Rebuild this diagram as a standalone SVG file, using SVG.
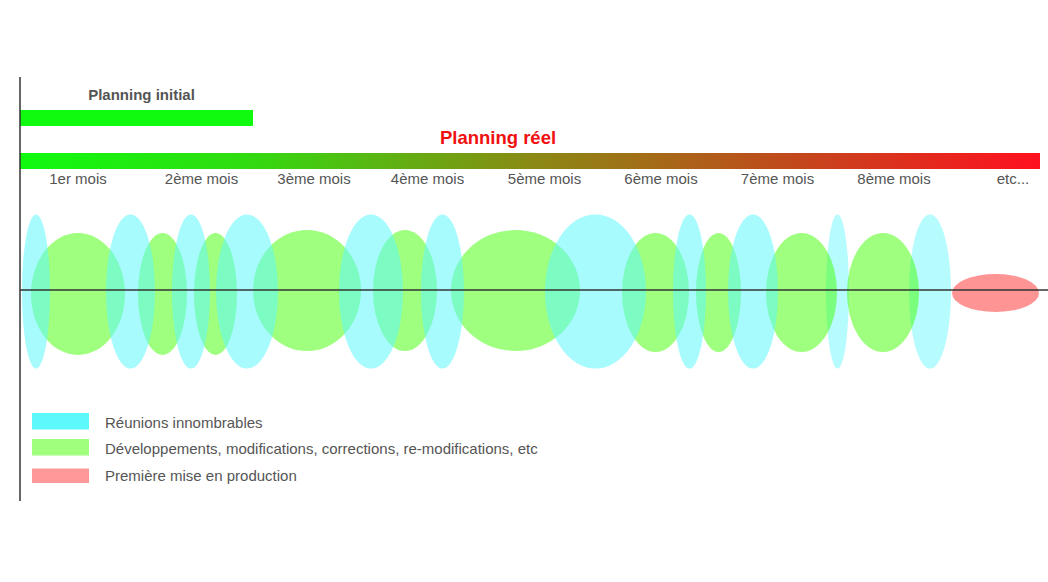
<svg xmlns="http://www.w3.org/2000/svg" width="1048" height="582" viewBox="0 0 1048 582">
<style>
text{font-family:"Liberation Sans",Arial,sans-serif;fill:#555}
.m{font-size:15px;text-anchor:middle}
.lg{font-size:15px}
.cy{fill:#5ef7fb;fill-opacity:.55}
.cyl{fill:#5ef7fb;fill-opacity:.45}
.gr{fill:#40ff00;fill-opacity:.5}
.axis{stroke:#333;stroke-width:1.5;fill:none}
</style>
<defs>
<linearGradient id="real" x1="0" y1="0" x2="1" y2="0">
<stop offset="0" stop-color="#10fa10"/>
<stop offset="0.22" stop-color="#30dc10"/>
<stop offset="0.5" stop-color="#8a8a14"/>
<stop offset="0.75" stop-color="#c04a1c"/>
<stop offset="1" stop-color="#ff1020"/>
</linearGradient>
</defs>
<rect width="1048" height="582" fill="#fff"/>
<g id="planning-initial">
<text x="141.5" y="99.5" font-size="15" font-weight="bold" text-anchor="middle">Planning initial</text>
<rect x="20" y="110" width="233" height="16" fill="#10fa10"/>
</g>
<g id="planning-reel">
<text x="498" y="143.5" font-size="18.5" font-weight="bold" text-anchor="middle" style="fill:#f01010">Planning réel</text>
<rect x="20" y="153" width="1020" height="16" fill="url(#real)"/>
</g>
<g id="months">
<text class="m" x="78" y="184">1er mois</text>
<text class="m" x="201.5" y="184">2ème mois</text>
<text class="m" x="314" y="184">3ème mois</text>
<text class="m" x="427.5" y="184">4ème mois</text>
<text class="m" x="544.5" y="184">5ème mois</text>
<text class="m" x="661" y="184">6ème mois</text>
<text class="m" x="777.5" y="184">7ème mois</text>
<text class="m" x="894" y="184">8ème mois</text>
<text class="m" x="1013" y="184">etc...</text>
</g>
<g id="activities">
<ellipse class="cyl" cx="837.5" cy="291.5" rx="11.5" ry="77"/>
<ellipse class="cyl" cx="930" cy="291.5" rx="21" ry="77"/>
<ellipse class="gr" cx="78" cy="294" rx="47" ry="61"/>
<ellipse class="gr" cx="162.5" cy="294" rx="24.5" ry="61"/>
<ellipse class="gr" cx="215.5" cy="294" rx="21.5" ry="61"/>
<ellipse class="gr" cx="307" cy="290.5" rx="54" ry="60.5"/>
<ellipse class="gr" cx="405" cy="290.5" rx="32" ry="60.5"/>
<ellipse class="gr" cx="515.5" cy="290.5" rx="64.5" ry="60.5"/>
<ellipse class="gr" cx="655.5" cy="292.5" rx="33.5" ry="59.5"/>
<ellipse class="gr" cx="718.5" cy="292.5" rx="22.5" ry="59.5"/>
<ellipse class="gr" cx="801.5" cy="292.5" rx="35.5" ry="59.5"/>
<ellipse class="gr" cx="883" cy="292.5" rx="36" ry="59.5"/>
<ellipse class="cy" cx="36" cy="291.5" rx="14" ry="77"/>
<ellipse class="cy" cx="130.5" cy="291.5" rx="24.5" ry="77"/>
<ellipse class="cy" cx="191" cy="291.5" rx="19" ry="77"/>
<ellipse class="cy" cx="247" cy="291.5" rx="31" ry="77"/>
<ellipse class="cy" cx="371" cy="291.5" rx="32" ry="77"/>
<ellipse class="cy" cx="442.5" cy="291.5" rx="21.5" ry="77"/>
<ellipse class="cy" cx="595.5" cy="291.5" rx="50.5" ry="77"/>
<ellipse class="cy" cx="689.5" cy="291.5" rx="16.5" ry="77"/>
<ellipse class="cy" cx="753" cy="291.5" rx="25" ry="77"/>
<ellipse cx="995.5" cy="293" rx="43.5" ry="19" fill="#ff9494"/>
</g>
<g id="axes">
<line class="axis" x1="20" y1="77" x2="20" y2="501"/>
<line class="axis" x1="20" y1="290" x2="1048" y2="290"/>
</g>
<g id="legend">
<rect x="32" y="413" width="57" height="16.5" fill="#5cf8fc"/>
<text class="lg" x="105" y="427.5">Réunions innombrables</text>
<rect x="32" y="439" width="57" height="16.5" fill="#a0ff7c"/>
<text class="lg" x="105" y="454">Développements, modifications, corrections, re-modifications, etc</text>
<rect x="32" y="468.5" width="57" height="14.5" fill="#ff9999"/>
<text class="lg" x="105" y="481">Première mise en production</text>
</g>
</svg>
